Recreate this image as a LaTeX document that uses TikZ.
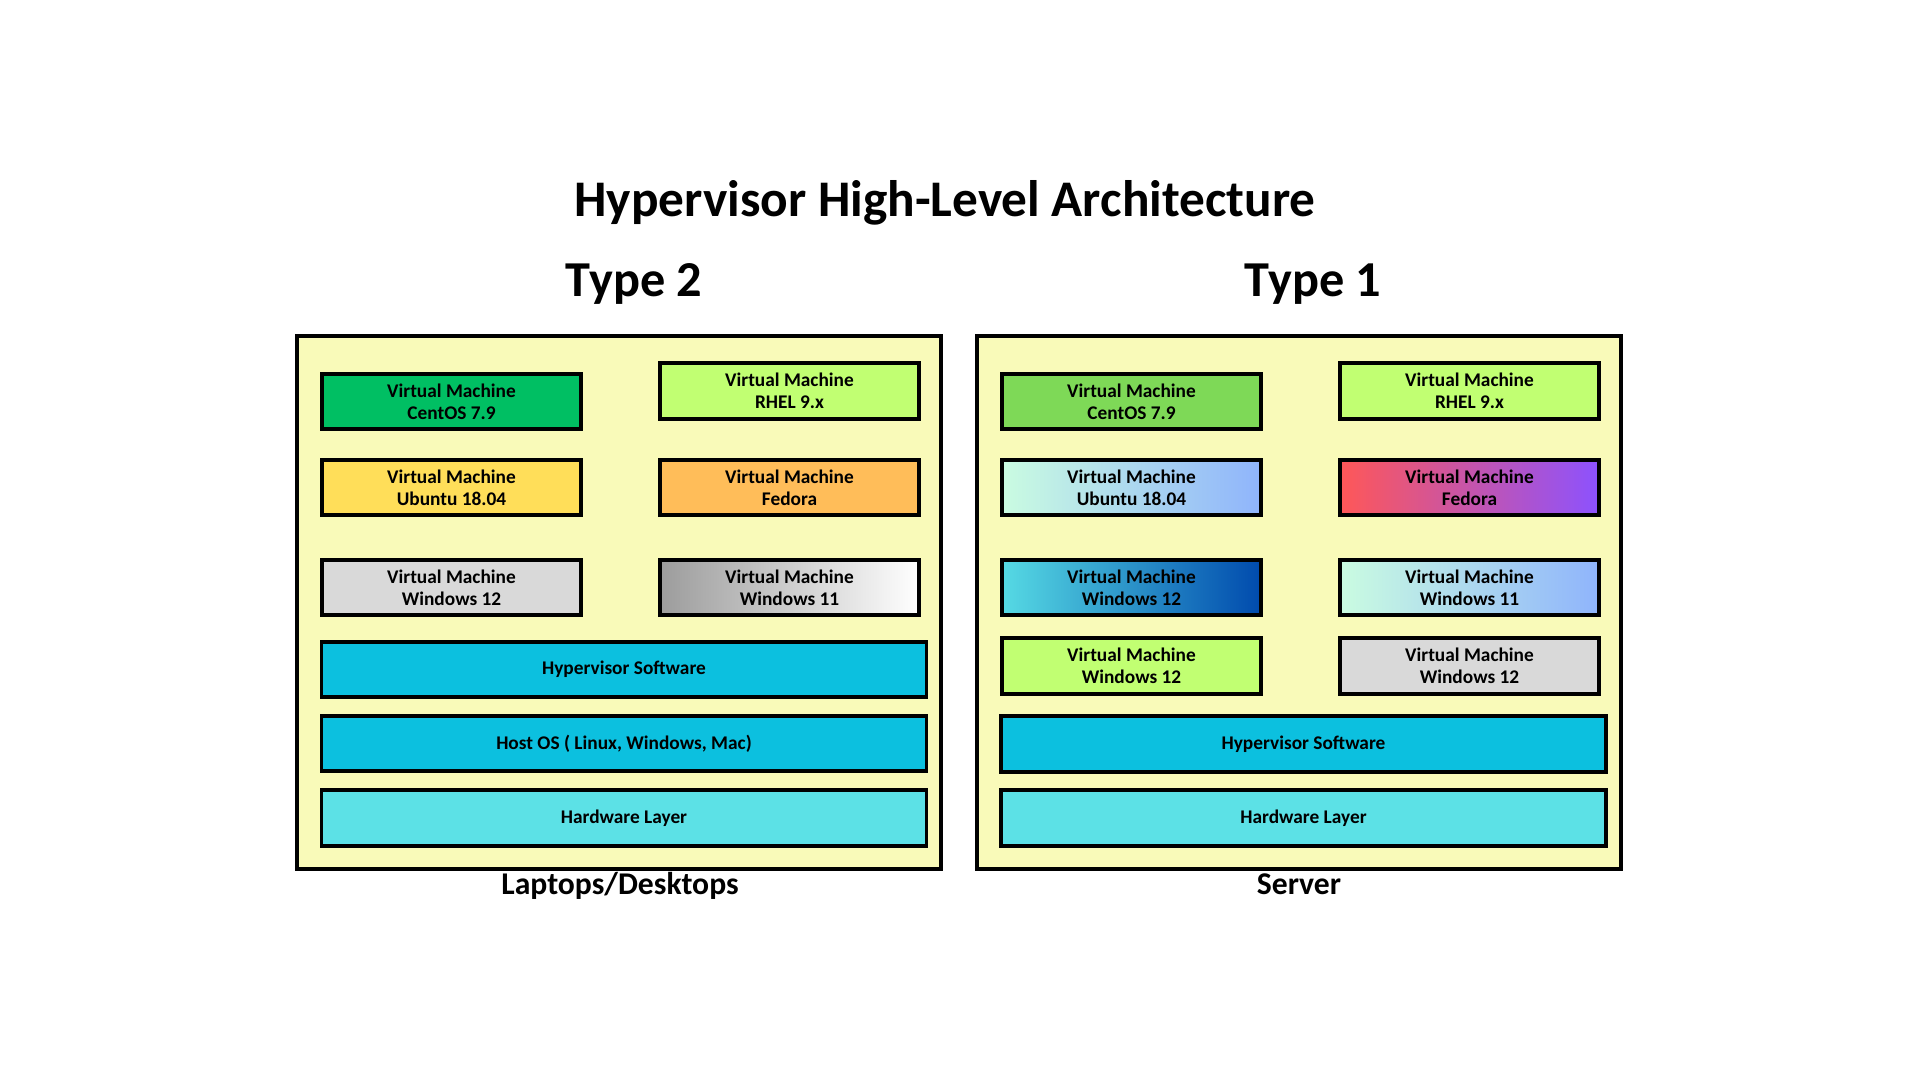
\documentclass[tikz,border=0pt]{standalone}
\usepackage{fontspec}
\setmainfont{Carlito}
\definecolor{panelY}{HTML}{F9FAB9}
\definecolor{cGreen}{HTML}{00BF63}
\definecolor{cGreenB}{HTML}{7ED957}
\definecolor{cLime}{HTML}{C1FF72}
\definecolor{cYellow}{HTML}{FFDE59}
\definecolor{cOrange}{HTML}{FFBD59}
\definecolor{cGrey}{HTML}{D9D9D9}
\definecolor{cGreyD}{HTML}{9C9C9C}
\definecolor{cCyan}{HTML}{0CC0DF}
\definecolor{cAqua}{HTML}{5CE1E6}
\definecolor{cMint}{HTML}{CAFCE1}
\definecolor{cSky}{HTML}{8FB4FC}
\definecolor{cRed}{HTML}{FF5757}
\definecolor{cPurple}{HTML}{8C52FF}
\definecolor{cNavy}{HTML}{004AAD}
\definecolor{cTeal}{HTML}{56DAE4}
\begin{document}
\begin{tikzpicture}[x=0.01cm,y=-0.01cm,
  panel/.style={draw=black,line width=1.14pt,fill=panelY,minimum width=6.44cm,minimum height=5.33cm,inner sep=0pt},
  vmbox/.style={draw=black,line width=1.05pt,minimum width=2.595cm,minimum height=0.555cm,inner sep=0pt,align=center,
    font=\fontsize{5.5}{6.3}\selectfont\bfseries},
  layer/.style={vmbox,minimum width=6.045cm},
  titletext/.style={anchor=base,inner sep=0pt,font=\fontsize{14.6}{16}\selectfont\bfseries},
  typetext/.style={anchor=base,inner sep=0pt,font=\fontsize{14.3}{16}\selectfont\bfseries},
  captext/.style={anchor=base,inner sep=0pt,font=\fontsize{9}{11}\selectfont\bfseries}]
\useasboundingbox[fill=white] (0,0) rectangle (1920,1080);

\node[titletext] (title) at (945,217) {Hypervisor High-Level Architecture};
\node[typetext] (type2) at (634,297) {Type 2};
\node[typetext] (type1) at (1313,297) {Type 1};

% panels
\node[panel] (pleft) at (619,602.5) {};
\node[panel] (pright) at (1299,602.5) {};

% Type 2 machines
\node[vmbox,fill=cGreen] (l1) at (451.5,401.5) {Virtual Machine\\CentOS 7.9};
\node[vmbox,fill=cLime] (l2) at (789.5,391) {Virtual Machine\\RHEL 9.x};
\node[vmbox,fill=cYellow] (l3) at (451.5,487.5) {Virtual Machine\\Ubuntu 18.04};
\node[vmbox,fill=cOrange] (l4) at (789.5,487.5) {Virtual Machine\\Fedora};
\node[vmbox,fill=cGrey] (l5) at (451.5,587.5) {Virtual Machine\\Windows 12};
\node[vmbox,left color=cGreyD,right color=white] (l6) at (789.5,587.5) {Virtual Machine\\Windows 11};
\node[layer,fill=cCyan] (lhyp) at (624,669.5) {Hypervisor Software};
\node[layer,fill=cCyan] (lhost) at (624,743.5) {Host OS ( Linux, Windows, Mac)};
\node[layer,fill=cAqua] (lhw) at (624,818) {Hardware Layer};

% Type 1 machines
\node[vmbox,fill=cGreenB] (r1) at (1131.5,401.5) {Virtual Machine\\CentOS 7.9};
\node[vmbox,fill=cLime] (r2) at (1469.5,391) {Virtual Machine\\RHEL 9.x};
\node[vmbox,left color=cMint,right color=cSky] (r3) at (1131.5,487.5) {Virtual Machine\\Ubuntu 18.04};
\node[vmbox,left color=cRed,right color=cPurple] (r4) at (1469.5,487.5) {Virtual Machine\\Fedora};
\node[vmbox,left color=cTeal,right color=cNavy] (r5) at (1131.5,587.5) {Virtual Machine\\Windows 12};
\node[vmbox,left color=cMint,right color=cSky] (r6) at (1469.5,587.5) {Virtual Machine\\Windows 11};
\node[vmbox,fill=cLime] (r7) at (1131.5,666) {Virtual Machine\\Windows 12};
\node[vmbox,fill=cGrey] (r8) at (1469.5,666) {Virtual Machine\\Windows 12};
\node[layer,fill=cCyan] (rhyp) at (1303.5,744) {Hypervisor Software};
\node[layer,fill=cAqua] (rhw) at (1303.5,818) {Hardware Layer};

\node[captext] (capl) at (620,895) {Laptops/Desktops};
\node[captext] (capr) at (1299,895) {Server};
\end{tikzpicture}
\end{document}
